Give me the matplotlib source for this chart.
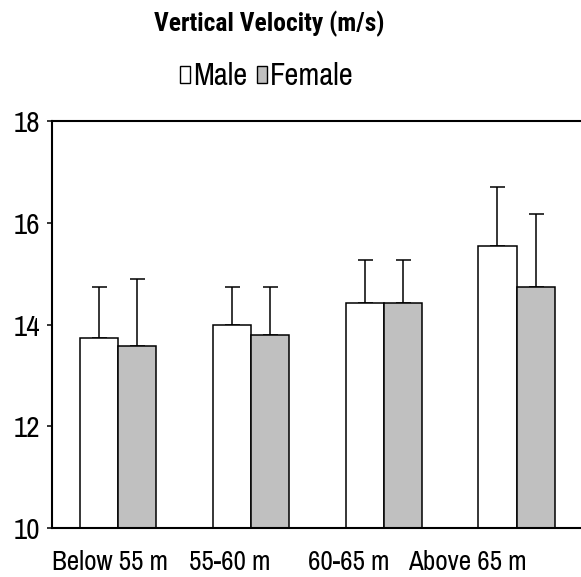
import matplotlib
matplotlib.use("Agg")
import matplotlib.pyplot as plt
from matplotlib import font_manager
from matplotlib.patches import Patch
import numpy as np

categories = ["Below 55 m", "55-60 m", "60-65 m", "Above 65 m"]
male_mean = [13.73, 14.00, 14.43, 15.55]
male_sd = [1.00, 0.73, 0.84, 1.16]
female_mean = [13.57, 13.79, 14.43, 14.74]
female_sd = [1.33, 0.94, 0.84, 1.44]
yticks = [10, 12, 14, 16, 18]

fl = font_manager.fontManager.ttflist
names = {f.name for f in fl}
bold_names = {f.name for f in fl if (f.weight if isinstance(f.weight, int) else 400) >= 700 or f.weight == "bold"}


def pick(prefs, pool):
    for p in prefs:
        if p in pool:
            return p
    return "Liberation Sans"


reg = pick(["Liberation Sans Narrow", "Archivo Narrow", "Roboto Condensed"], names)
bold = pick(["Liberation Sans Narrow", "Archivo Narrow", "Roboto Condensed", "Encode Sans Condensed"], bold_names)
plt.rcParams["font.family"] = [reg, "DejaVu Sans"]

fig = plt.figure(figsize=(5.81, 5.77), dpi=100)
ax = fig.add_axes([0.089, 0.0854, 0.9145, 0.7044])

x = np.arange(len(categories))
w = 0.288
ax.bar(x - w / 2, male_mean, w, color="white", edgecolor="black", linewidth=1.1, zorder=2)
ax.bar(x + w / 2, female_mean, w, color="#c0c0c0", edgecolor="black", linewidth=1.1, zorder=2)
ax.errorbar(x - w / 2, male_mean, yerr=[np.zeros(4), male_sd], fmt="none", ecolor="black",
            elinewidth=1.1, capsize=5.4, capthick=1.1, zorder=1)
ax.errorbar(x + w / 2, female_mean, yerr=[np.zeros(4), female_sd], fmt="none", ecolor="black",
            elinewidth=1.1, capsize=5.4, capthick=1.1, zorder=1)

ax.set_xlim(-0.5, 3.5)
ax.set_ylim(10, 18)
ax.set_yticks(yticks)
ax.set_yticklabels([str(t) for t in yticks], fontsize=21)
label_pos = x * 0.897 - 0.06
ax.set_xticks(label_pos)
ax.set_xticklabels(categories, fontsize=19.5)
ax.tick_params(axis="x", length=0, pad=16)
ax.tick_params(axis="y", direction="out", length=3.6, width=1.1, pad=4.5)
for s in ["left", "top", "bottom"]:
    ax.spines[s].set_linewidth(1.5)
ax.spines["right"].set_visible(False)

fig.text(0.463, 0.958, "Vertical Velocity (m/s)", ha="center", va="center",
         fontsize=18.4, fontweight="bold", family=[bold, "DejaVu Sans"])
handles = [Patch(facecolor="white", edgecolor="black", linewidth=1.0),
           Patch(facecolor="#c0c0c0", edgecolor="black", linewidth=1.0)]
fig.legend(handles, ["Male", "Female"], loc="center", bbox_to_anchor=(0.459, 0.868),
           ncol=2, frameon=False, fontsize=22, handlelength=0.33, handleheight=0.48,
           handletextpad=0.08, columnspacing=0.33, borderpad=0)

fig.savefig("out.png", dpi=100)
